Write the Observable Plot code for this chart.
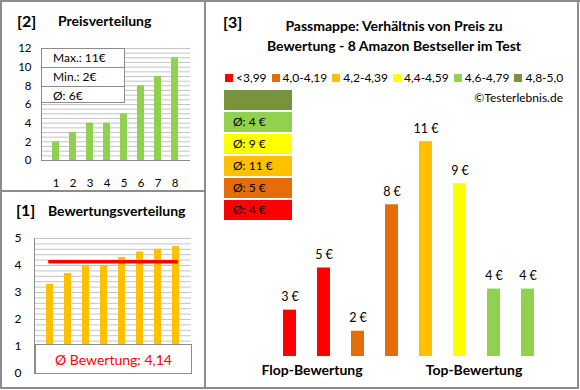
<!DOCTYPE html>
<html><head><meta charset="utf-8">
<script src="https://cdn.jsdelivr.net/npm/d3@7"></script>
<script src="https://cdn.jsdelivr.net/npm/@observablehq/plot@0.6"></script>
<style>
body{margin:0;background:#fff;font-family:Lato,"Open Sans",sans-serif;color:#000;}
#c{position:relative;width:580px;height:390px;overflow:hidden;background:#fff}
.a{position:absolute;white-space:nowrap}
.line{position:absolute;background:#8c8c8c}
.b{font-weight:bold}
#c svg{position:absolute;overflow:visible}
.lg{display:inline-flex;align-items:center;margin-right:5px}
.sw{display:inline-block;width:8px;height:8px;margin-right:3px}
</style></head><body><div id="c"></div>
<script>
// ---- data ----
const products = [1, 2, 3, 4, 5, 6, 7, 8];
const prices = [3, 5, 2, 8, 11, 9, 4, 4];            // € per product (panel 3 order)
const ratings = [3.3, 3.7, 4.0, 4.0, 4.3, 4.5, 4.6, 4.7];
const classLabels = ["<3,99", "4,0-4,19", "4,2-4,39", "4,4-4,59", "4,6-4,79", "4,8-5,0"];
const classColors = ["#FF0000", "#E46C0A", "#FFC000", "#FFFF00", "#92D050", "#77933C"];
const classThresholds = [4.0, 4.2, 4.4, 4.6, 4.8];
const groupLabels = ["Flop-Bewertung", "Top-Bewertung"];
const priceTicks = [0, 2, 4, 6, 8, 10, 12];
const ratingTicks = [0, 1, 2, 3, 4, 5];
const priceAxisMin = 0.8;

const c = document.getElementById("c");
const fmt = v => String(Math.round(v * 100) / 100).replace(".", ",");
function el(html, css, cls = "a") {
  const d = document.createElement("div");
  d.className = cls; d.innerHTML = html; d.style.cssText = css; c.appendChild(d); return d;
}
function place(svg, left, top) { svg.style.left = left + "px"; svg.style.top = top + "px"; c.appendChild(svg); }
const gray = "#8c8c8c", grid = "#c4c4c4";

// ---- panel [2] Preisverteilung ----
const sortedPrices = d3.sort(prices);
const p2data = sortedPrices.map((v, i) => ({k: products[i], v}));
place(Plot.plot({
  width: 204, height: 190, marginLeft: 41, marginRight: 14, marginTop: 48, marginBottom: 30,
  style: {fontFamily: "Lato", fontSize: "11.5px", background: "transparent", color: "#000"},
  x: {domain: products, padding: 0.57, label: null, tickSize: 0, tickPadding: 18},
  y: {domain: [0, 12], ticks: priceTicks, tickFormat: d => d, label: null, tickSize: 0, tickPadding: 10},
  marks: [
    Plot.ruleY(d3.range(0, 12.01, 0.5), {stroke: grid}),
    Plot.barY(p2data, {x: "k", y: "v", fill: "#92D050"}),
    Plot.frame({anchor: "left", stroke: gray}),
    Plot.ruleY([0], {stroke: gray})
  ]
}), 0, 0);
const pmax = d3.max(prices), pmin = d3.min(prices), pavg = Math.round(d3.mean(prices));
el(`<div style="height:18px;line-height:18px;border-bottom:1px solid ${gray};padding-left:11px">Max.: ${pmax}€</div>
<div style="height:18px;line-height:18px;border-bottom:1px solid ${gray};padding-left:11px">Min.: ${pmin}€</div>
<div style="height:18px;line-height:18px;padding-left:11px">Ø: ${pavg}€</div>`,
  `left:41px;top:48px;width:84px;height:55px;background:#fff;border:1px solid ${gray};font-size:12px;box-sizing:border-box`);
el("[2]", "left:17px;top:10px;font-size:16px;line-height:22px", "a b");
el("Preisverteilung", "left:58px;top:11px;font-size:14px;line-height:20px", "a b");

// ---- panel [1] Bewertungsverteilung ----
const ravg = d3.mean(ratings);
place(Plot.plot({
  width: 204, height: 197, marginLeft: 34, marginRight: 13, marginTop: 47, marginBottom: 15,
  style: {fontFamily: "Lato", fontSize: "12px", background: "transparent", color: "#000"},
  x: {domain: products, padding: 0.59, axis: null},
  y: {domain: [0, 5], ticks: ratingTicks, tickFormat: d => d, label: null, tickSize: 0, tickPadding: 13},
  marks: [
    Plot.ruleY(d3.range(1, 5.001, 0.2), {stroke: grid}),
    Plot.barY(ratings.map((v, i) => ({k: products[i], v})), {x: "k", y: "v", fill: "#FFC000"}),
    Plot.line(products, {x: d => d, y: () => ravg, stroke: "#FF0000", strokeWidth: 3.5, strokeLinecap: "square"}),
    Plot.frame({anchor: "left", stroke: gray})
  ]
}), 0, 191);
el(`Ø Bewertung: ${fmt(ravg)}`,
  `left:35px;top:344px;width:157px;height:30px;line-height:29px;text-align:center;background:#fff;border:1px solid ${gray};box-sizing:border-box;color:#FF0000;font-size:14px`);
el("[1]", "left:16px;top:199px;font-size:16px;line-height:22px", "a b");
el("Bewertungsverteilung", "left:48px;top:201px;font-size:14px;line-height:20px", "a b");

// ---- panel [3] Passmappe ----
const cls = r => d3.bisectRight(classThresholds, r);
const p3data = products.map((k, i) => ({k, v: prices[i], c: cls(ratings[i])}));
place(Plot.plot({
  width: 373, height: 388, marginLeft: 54, marginRight: 20, marginTop: 120, marginBottom: 32,
  style: {fontFamily: "Lato", fontSize: "12px", background: "transparent", color: "#000"},
  x: {domain: products, padding: 0.61, axis: null},
  y: {domain: [priceAxisMin, 12], axis: null},
  marks: [
    Plot.barY(p3data, {x: "k", y1: () => priceAxisMin, y2: "v", fill: d => classColors[d.c]}),
    Plot.text(p3data, {x: "k", y: "v", text: d => `${d.v} €`, dy: -13, fontSize: 12.5})
  ]
}), 205, 0);
el("[3]", "left:223px;top:11px;font-size:16px;line-height:22px", "a b");
el("Passmappe: Verhältnis von Preis zu<br>Bewertung - 8 Amazon Bestseller im Test",
  "left:214px;top:16px;width:360px;text-align:center;font-size:14px;line-height:20px", "a b");
el(classLabels.map((l, i) => `<span class="lg"><span class="sw" style="background:${classColors[i]}"></span>${l}</span>`).join(""),
  "left:225px;top:70px;font-size:12px;line-height:16px");
el("©Testerlebnis.de", "left:380px;width:183px;text-align:right;top:90px;font-size:12px;line-height:16px");
// group averages, top = best class
const boxes = d3.range(classColors.length - 1, -1, -1).map(ci => {
  const vs = p3data.filter(d => d.c === ci).map(d => d.v);
  const t = vs.length ? `Ø: ${Math.round(d3.mean(vs))} €` : "";
  return `<div style="height:20px;line-height:20px;margin-bottom:2px;background:${classColors[ci]};padding-left:9px">${t}</div>`;
}).join("");
el(boxes, "left:224px;top:90px;width:68px;font-size:12px");
el(groupLabels[0], "left:212px;width:200px;text-align:center;top:360px;font-size:14px;line-height:20px", "a b");
el(groupLabels[1], "left:374px;width:200px;text-align:center;top:360px;font-size:14px;line-height:20px", "a b");

// ---- borders ----
el("", "left:0;top:0;width:580px;height:2px", "line");
el("", "left:0;top:0;width:2px;height:389px", "line");
el("", "left:577px;top:0;width:2px;height:389px", "line");
el("", "left:0;top:387px;width:579px;height:2px", "line");
el("", "left:204px;top:0;width:2px;height:389px", "line");
el("", "left:0;top:190px;width:205px;height:2px", "line");
</script></body></html>
